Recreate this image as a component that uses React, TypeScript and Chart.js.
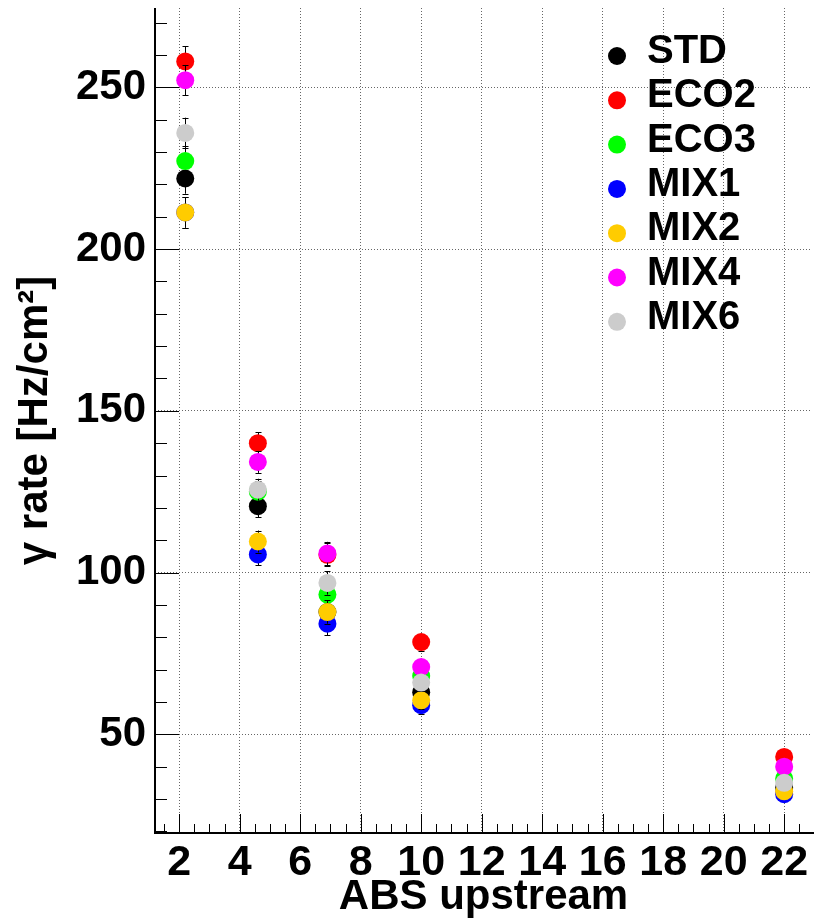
import React, { useEffect, useRef } from "react";
import { Chart, registerables } from "chart.js";

Chart.register(...registerables);

// ---- data ----
const xPositions = [2.2, 4.6, 6.9, 10, 22];
const seriesNames = ["STD", "ECO2", "ECO3", "MIX1", "MIX2", "MIX4", "MIX6"];
const STD = [221.8, 120.5, 87.8, 63.0, 33.5];
const ECO2 = [258.0, 140.0, 105.5, 78.5, 43.0];
const ECO3 = [227.2, 125.0, 93.2, 68.0, 36.3];
const MIX1 = [211.3, 105.6, 84.2, 59.0, 31.5];
const MIX2 = [211.3, 109.6, 87.8, 60.5, 32.4];
const MIX4 = [252.2, 134.2, 105.9, 70.8, 40.0];
const MIX6 = [235.9, 125.6, 96.8, 66.0, 35.0];
const errY = [4.7, 3.4, 3.6, 2.6, 1.6];
const xTickValues = [2, 4, 6, 8, 10, 12, 14, 16, 18, 20, 22];
const yTickValues = [50, 100, 150, 200, 250];
const xRange = [1.2, 22.92];
const yRange = [19.5, 274.5];

const seriesValues = [STD, ECO2, ECO3, MIX1, MIX2, MIX4, MIX6];
const seriesColors = ["#000000", "#ff0000", "#00ff00", "#0000ff", "#ffcc00", "#ff00ff", "#cccccc"];

const FONT = "'Liberation Sans', Arial, Helvetica, sans-serif";

const errorBarPlugin = {
  id: "errorBars",
  beforeDatasetDraw(chart: any, args: any) {
    const ds = chart.data.datasets[args.index];
    const errs: number[] = ds.errors || [];
    const yScale = chart.scales.y;
    const ctx = chart.ctx;
    ctx.save();
    ctx.strokeStyle = "#000";
    ctx.lineWidth = 1;
    args.meta.data.forEach((pt: any, i: number) => {
      const v = ds.data[i].y;
      const e = errs[i] || 0;
      const x = Math.round(pt.x) + 0.5;
      const hi = yScale.getPixelForValue(v + e);
      const lo = yScale.getPixelForValue(v - e);
      ctx.beginPath();
      ctx.moveTo(x, hi);
      ctx.lineTo(x, lo);
      ctx.moveTo(x - 3, Math.round(hi) + 0.5);
      ctx.lineTo(x + 3, Math.round(hi) + 0.5);
      ctx.moveTo(x - 3, Math.round(lo) + 0.5);
      ctx.lineTo(x + 3, Math.round(lo) + 0.5);
      ctx.stroke();
    });
    ctx.restore();
  },
};

const axesPlugin = {
  id: "rootAxes",
  afterDraw(chart: any) {
    const { ctx, chartArea } = chart;
    const xs = chart.scales.x;
    const ys = chart.scales.y;
    const { left, top, bottom } = chartArea;
    ctx.save();
    ctx.strokeStyle = "#000";
    ctx.lineWidth = 1;
    ctx.beginPath();
    for (let v = 20; v <= yRange[1]; v += 10) {
      const p = Math.round(ys.getPixelForValue(v)) + 0.5;
      const len = v % 50 === 0 ? 24 : 12;
      ctx.moveTo(left, p);
      ctx.lineTo(left + len, p);
    }
    for (let v = 1.5; v <= xRange[1]; v += 0.5) {
      const p = Math.round(xs.getPixelForValue(v)) + 0.5;
      const len = Math.abs(v % 2) < 1e-6 ? 19 : 9;
      ctx.moveTo(p, bottom);
      ctx.lineTo(p, bottom - len);
    }
    ctx.stroke();
    ctx.lineWidth = 2;
    ctx.beginPath();
    ctx.moveTo(left, top);
    ctx.lineTo(left, bottom);
    ctx.lineTo(chart.width, bottom);
    ctx.stroke();
    ctx.restore();
  },
};

const legendPlugin = {
  id: "rootLegend",
  afterDraw(chart: any) {
    const { ctx, chartArea } = chart;
    ctx.save();
    ctx.font = `bold 40px ${FONT}`;
    ctx.textBaseline = "middle";
    ctx.textAlign = "left";
    chart.data.datasets.forEach((ds: any, i: number) => {
      const cy = chartArea.top + 48 + i * 44.3;
      ctx.fillStyle = ds.backgroundColor;
      ctx.beginPath();
      ctx.arc(chartArea.left + 462, cy, 9, 0, Math.PI * 2);
      ctx.fill();
      ctx.fillStyle = "#000";
      ctx.fillText(ds.label, chartArea.left + 492, cy - 4);
    });
    ctx.restore();
  },
};

export default function App() {
  const canvasRef = useRef<HTMLCanvasElement>(null);

  useEffect(() => {
    const canvas = canvasRef.current;
    if (!canvas) return;
    const datasets = seriesNames.map((name, si) => ({
      label: name,
      data: xPositions.map((x, i) => ({ x, y: seriesValues[si][i] })),
      errors: errY,
      backgroundColor: seriesColors[si],
      borderColor: seriesColors[si],
      borderWidth: 0,
      pointRadius: 9,
      pointHoverRadius: 9,
      showLine: false,
      order: seriesNames.length - si,
    }));

    const chart = new Chart(canvas, {
      type: "scatter",
      data: { datasets } as any,
      options: {
        animation: false,
        responsive: false,
        devicePixelRatio: 1,
        layout: { autoPadding: false, padding: { left: 0, right: 2, top: 8, bottom: 0 } },
        plugins: { legend: { display: false }, tooltip: { enabled: false } },
        scales: {
          x: {
            type: "linear",
            min: xRange[0],
            max: xRange[1],
            afterBuildTicks: (s: any) => {
              s.ticks = xTickValues.map((v) => ({ value: v }));
            },
            afterFit: (s: any) => {
              s.height = 90;
              s.paddingLeft = 0;
              s.paddingRight = 0;
              s.paddingTop = 0;
              s.paddingBottom = 0;
            },
            grid: { color: "#666", lineWidth: 1, drawTicks: false },
            border: { display: false, dash: [1, 2] },
            ticks: {
              color: "#000",
              padding: 4,
              autoSkip: false,
              maxRotation: 0,
              font: { family: FONT, weight: "bold", size: 43 },
              callback: (v: any) => String(v),
            },
            title: {
              display: true,
              text: "ABS upstream",
              color: "#000",
              font: { family: FONT, weight: "bold", size: 42 },
              padding: { top: 0, bottom: 0 },
            },
          },
          y: {
            type: "linear",
            min: yRange[0],
            max: yRange[1],
            afterBuildTicks: (s: any) => {
              s.ticks = yTickValues.map((v) => ({ value: v }));
            },
            afterFit: (s: any) => {
              s.width = 155;
              s.paddingLeft = 0;
              s.paddingRight = 0;
              s.paddingTop = 0;
              s.paddingBottom = 0;
            },
            grid: { color: "#666", lineWidth: 1, drawTicks: false },
            border: { display: false, dash: [1, 2] },
            ticks: {
              color: "#000",
              padding: 9,
              font: { family: FONT, weight: "bold", size: 42 },
              callback: (v: any) => String(v),
            },
            title: {
              display: true,
              text: "γ rate [Hz/cm²]",
              color: "#000",
              font: { family: FONT, weight: "bold", size: 42 },
              padding: { top: 10, bottom: 0 },
            },
          },
        },
      } as any,
      plugins: [errorBarPlugin, axesPlugin, legendPlugin],
    });
    return () => chart.destroy();
  }, []);

  return (
    <div style={{ position: "fixed", left: 0, top: 0, width: 814, height: 923, background: "#fff" }}>
      <canvas ref={canvasRef} width={814} height={923} style={{ display: "block" }} />
    </div>
  );
}
